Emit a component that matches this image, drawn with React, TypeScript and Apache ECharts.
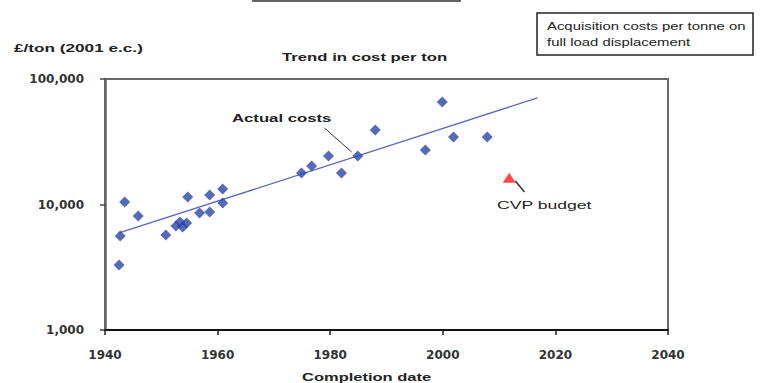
import React, { useEffect, useRef } from "react";
import * as echarts from "echarts";

const actualYears = [1942.5, 1942.7, 1943.5, 1945.9, 1950.8, 1952.6, 1953.3, 1953.8, 1954.5, 1954.7, 1956.8, 1958.6, 1958.6, 1960.9, 1960.9, 1974.9, 1976.7, 1979.7, 1982.0, 1984.9, 1988.0, 1996.9, 1999.9, 2001.9, 2007.9];
const actualCosts = [3300, 5610, 10470, 8090, 5710, 6740, 7260, 6620, 7130, 11480, 8550, 8710, 11900, 13300, 10280, 17800, 20300, 24300, 17800, 24300, 39300, 27200, 65600, 34500, 34500];
const budgetYear = [2011.8];
const budgetCost = [16300];
const trendYears = [1942.5, 2016.8];
const trendCosts = [5930, 70700];
const xTicks = [1940, 1960, 1980, 2000, 2020, 2040];
const yTicks = [1000, 10000, 100000];
const actualLeader = [[1979.0, 40700], [1983.8, 26200]];
const budgetLeader = [[2012.9, 15400], [2014.5, 12600]];

const FONT = "Liberation Sans, Arial, sans-serif";
const TICKFONT = "DejaVu Sans, sans-serif";

function label(text: string, x: number, y: number, font: string, scaleX: number) {
  return {
    type: "text", x, y, scaleX, z: 10,
    style: { text, fill: "#222", font, textVerticalAlign: "middle", textAlign: "left" },
  };
}

export default function App() {
  const ref = useRef<HTMLDivElement>(null);
  useEffect(() => {
    if (!ref.current) return;
    const chart = echarts.init(ref.current, undefined, { renderer: "svg" });
    const fmt = (v: number) => v.toLocaleString("en-US");
    chart.setOption({
      animation: false,
      backgroundColor: "#fff",
      textStyle: { fontFamily: FONT },
      grid: {
        left: 105, right: 92, top: 79, bottom: 53,
        outerBoundsMode: "none",
        show: true, borderColor: "#666", borderWidth: 2, backgroundColor: "transparent",
      },
      xAxis: {
        type: "value", min: xTicks[0], max: xTicks[xTicks.length - 1], interval: 20,
        splitLine: { show: false },
        axisLine: { show: true, onZero: false, lineStyle: { color: "#111", width: 2 } },
        axisTick: { show: true, length: 5, lineStyle: { color: "#222", width: 1.5 } },
        axisLabel: { color: "#333", fontSize: 12, fontWeight: "bold", margin: 19, fontFamily: TICKFONT, formatter: (v: number) => String(v) },
      },
      yAxis: {
        type: "log", logBase: 10, min: yTicks[0], max: yTicks[yTicks.length - 1],
        splitLine: { show: false },
        minorTick: { show: false },
        axisLine: { show: true, lineStyle: { color: "#666", width: 2.5 } },
        axisTick: { show: true, length: 5, lineStyle: { color: "#444", width: 1.5 } },
        axisLabel: { color: "#333", fontSize: 12, fontWeight: "bold", margin: 21, fontFamily: TICKFONT, formatter: (v: number) => fmt(v) },
      },
      series: [
        {
          type: "line", data: trendYears.map((y, i) => [y, trendCosts[i]]),
          showSymbol: false, symbol: "none", lineStyle: { color: "#5a66c4", width: 1.3 }, z: 2,
        },
        {
          type: "scatter", data: actualYears.map((y, i) => [y, actualCosts[i]]),
          symbol: "diamond", symbolSize: 11, itemStyle: { color: "#2b46a8" }, z: 3,
          markLine: {
            silent: true, symbol: "none", label: { show: false },
            lineStyle: { color: "#333", width: 1, type: "solid" },
            data: [[{ coord: actualLeader[0] }, { coord: actualLeader[1] }]],
          },
        },
        {
          type: "scatter", data: budgetYear.map((y, i) => [y, budgetCost[i]]),
          symbol: "triangle", symbolSize: [13, 10], itemStyle: { color: "#ff1a1a" }, z: 3,
          markLine: {
            silent: true, symbol: "none", label: { show: false },
            lineStyle: { color: "#333", width: 1.5, type: "solid" },
            data: [[{ coord: budgetLeader[0] }, { coord: budgetLeader[1] }]],
          },
        },
      ],
      graphic: [
        { type: "rect", shape: { x: 253, y: -20, width: 207, height: 21 }, style: { fill: "none", stroke: "#333", lineWidth: 1.5 } },
        { type: "rect", shape: { x: 537, y: 13, width: 216, height: 42 }, style: { fill: "#fff", stroke: "#222", lineWidth: 1.5 } },
        label("Acquisition costs per tonne on", 547, 27, `10px ${FONT}`, 1.49),
        label("full load displacement", 547, 43, `10px ${FONT}`, 1.49),
        label("£/ton (2001 e.c.)", 14, 48, `bold 10px ${FONT}`, 1.72),
        label("Trend in cost per ton", 282, 57, `bold 11px ${FONT}`, 1.52),
        label("Actual costs", 232, 118, `bold 11px ${FONT}`, 1.52),
        label("CVP budget", 497, 205, `11px ${FONT}`, 1.6),
        label("Completion date", 302, 377, `bold 11px ${FONT}`, 1.5),
      ],
    });
    return () => chart.dispose();
  }, []);
  return <div ref={ref} style={{ width: 760, height: 383, position: "absolute", left: 0, top: 0 }} />;
}
